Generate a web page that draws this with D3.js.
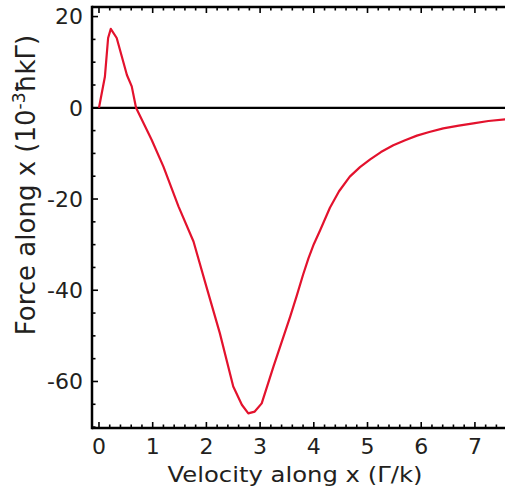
<!DOCTYPE html>
<html><head><meta charset="utf-8">
<script src="https://cdn.jsdelivr.net/npm/d3@7"></script>
<style>body{margin:0;background:#fff}svg{display:block}text{font-family:"DejaVu Sans",sans-serif;fill:#231f20}</style>
</head><body>
<svg id="c" width="505" height="492"></svg>
<script>
const velocity = [0, 0.11, 0.17, 0.22, 0.33, 0.52, 0.61, 0.69, 0.98, 1.20, 1.48, 1.76, 2.00, 2.25, 2.50, 2.66, 2.78, 2.90, 3.03, 3.25, 3.56, 3.68, 3.80, 3.90, 4.00, 4.12, 4.30, 4.47, 4.67, 4.86, 5.05, 5.25, 5.48, 5.70, 5.92, 6.15, 6.41, 6.70, 6.97, 7.25, 7.60];
const force    = [0, 6.8, 15.3, 17.3, 15.3, 7.2, 4.7, 0, -7.0, -12.9, -21.6, -29.3, -39.2, -49.4, -61.1, -65.1, -67.0, -66.6, -64.8, -56.7, -45.8, -41.3, -36.6, -33.0, -29.9, -26.8, -21.9, -18.3, -15.1, -13.0, -11.3, -9.7, -8.2, -7.1, -6.1, -5.3, -4.5, -3.9, -3.4, -2.9, -2.5];
const xTickLabels = [0,1,2,3,4,5,6,7];
const yTickLabels = [20,0,-20,-40,-60];

const svg = d3.select("#c");
const L=92, R=505, T=7, B=428;
const x = d3.scaleLinear().domain([-0.13, 7.56]).range([L, R]);
const y = d3.scaleLinear().domain([-70.2, 22.1]).range([B, T]);

const xMinor = d3.range(0, 7.61, 0.2).map(v=>+v.toFixed(1));
const yMinor = d3.range(-70, 21, 5);

svg.append("defs").append("clipPath").attr("id","clip").append("rect")
  .attr("x",L).attr("y",T).attr("width",R-L).attr("height",B-T);

// zero line
svg.append("line").attr("x1",L).attr("x2",R).attr("y1",y(0)).attr("y2",y(0))
  .attr("stroke","#000").attr("stroke-width",2.2);

// curve
const pts = velocity.map((v,i)=>[v,force[i]]);
svg.append("path").datum(pts).attr("clip-path","url(#clip)")
  .attr("d", d3.line().x(d=>x(d[0])).y(d=>y(d[1])))
  .attr("fill","none").attr("stroke","#e3122d").attr("stroke-width",2.2).attr("stroke-linejoin","round");

const isMajorX = v => Math.abs(v-Math.round(v))<1e-6;
// bottom axis
const gB = svg.append("g").attr("transform",`translate(0,${B})`);
gB.append("line").attr("x1",L).attr("x2",R).attr("stroke","#000").attr("stroke-width",2.5);
gB.selectAll("line.t").data(xMinor).join("line").attr("class","t")
  .attr("x1",d=>x(d)).attr("x2",d=>x(d)).attr("y1",0).attr("y2",d=>isMajorX(d)?-6:-3.5)
  .attr("stroke","#000").attr("stroke-width",1.6);
gB.selectAll("text").data(xTickLabels).join("text")
  .attr("x",d=>x(d)).attr("y",26).attr("text-anchor","middle").attr("font-size",22).text(d=>d);

// top axis
const gT = svg.append("g").attr("transform",`translate(0,${T})`);
gT.append("line").attr("x1",L).attr("x2",R).attr("stroke","#000").attr("stroke-width",2.5);
gT.selectAll("line.t").data(xMinor).join("line").attr("class","t")
  .attr("x1",d=>x(d)).attr("x2",d=>x(d)).attr("y1",0).attr("y2",d=>isMajorX(d)?6:3.5)
  .attr("stroke","#000").attr("stroke-width",1.6);

// left axis
const gL = svg.append("g").attr("transform",`translate(${L},0)`);
gL.append("line").attr("y1",T-1.2).attr("y2",B+1.2).attr("stroke","#000").attr("stroke-width",2.5);
gL.selectAll("line.t").data(yMinor).join("line").attr("class","t")
  .attr("y1",d=>y(d)).attr("y2",d=>y(d)).attr("x1",0).attr("x2",d=>d%20===0?6:3.5)
  .attr("stroke","#000").attr("stroke-width",1.6);
gL.selectAll("text").data(yTickLabels).join("text")
  .attr("x",-9).attr("y",d=>y(d)).attr("dy","0.36em").attr("text-anchor","end").attr("font-size",22)
  .text(d=>d);

// titles
svg.append("text").attr("x",295).attr("y",482).attr("text-anchor","middle").attr("font-size",22)
  .attr("textLength",255).attr("lengthAdjust","spacingAndGlyphs")
  .text("Velocity along x (Γ/k)");
const yt = svg.append("text").attr("transform","translate(35,185) rotate(-90)").attr("text-anchor","middle").attr("font-size",26);
yt.append("tspan").text("Force along x (10");
yt.append("tspan").attr("font-size",17).attr("dy",-10).text("-3");
yt.append("tspan").attr("dy",10).text("ħkΓ)");
</script>
</body></html>
